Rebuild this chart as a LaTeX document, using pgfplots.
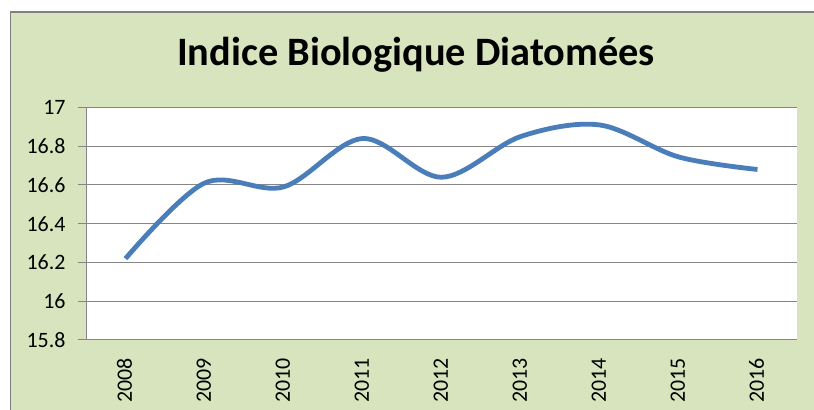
\documentclass[border=0pt]{standalone}
\usepackage{pgfplots}
\pgfplotsset{compat=1.18}
\usepackage{fontspec}
\setmainfont{Carlito}
\definecolor{bgGreen}{RGB}{215,228,189}
\definecolor{lineBlue}{RGB}{74,126,187}
\definecolor{gridGray}{RGB}{134,134,134}
\definecolor{frameGray}{RGB}{128,128,128}
\begin{document}
\begin{tikzpicture}
\useasboundingbox (0,0) rectangle (814bp,410bp);
\fill[white] (0,0) rectangle (814bp,410bp);
\fill[bgGreen] (10.5bp,0) rectangle (814bp,398bp);
\draw[frameGray,line width=1.5bp] (10.5bp,0) -- (10.5bp,398bp) -- (814bp,398bp);
\node[font=\bfseries\fontsize{40.5}{44}\selectfont, anchor=base, inner sep=0pt] at (416bp,344bp) {Indice Biologique Diatomées};
\begin{axis}[
  at={(86bp,70bp)}, anchor=south west,
  scale only axis, width=711bp, height=232.5bp,
  xmin=-0.5, xmax=8.5, ymin=15.8, ymax=17,
  ytick={15.8,16,16.2,16.4,16.6,16.8,17},
  xtick={0,...,8},
  xticklabels={2008,2009,2010,2011,2012,2013,2014,2015,2016},
  minor xtick={-0.5,0.5,...,8.5},
  axis lines*=left,
  axis line style={gridGray, line width=1bp},
  every tick/.style={gridGray, line width=1bp},
  major tick length=8bp, minor tick length=8bp,
  tick align=outside,
  x tick style={draw=none},
  minor x tick style={gridGray, line width=1bp},
  ymajorgrids, grid style={gridGray, line width=1bp},
  axis background/.style={fill=white},
  /pgf/number format/assume math mode=true,
  /pgf/number format/fixed,
  tick label style={font=\fontsize{22}{24}\selectfont, text=black},
  yticklabel style={anchor=east, xshift=-9bp},
  xticklabel style={rotate=90, anchor=mid east, xshift=-7bp, yshift=-4bp},
  clip=false,
]
\addplot[lineBlue, line width=4.8bp, smooth, tension=0.55] coordinates {
 (0,16.22) (1,16.61) (2,16.59) (3,16.84) (4,16.64) (5,16.85) (6,16.91) (7,16.745) (8,16.68)
};
\end{axis}
\end{tikzpicture}
\end{document}
